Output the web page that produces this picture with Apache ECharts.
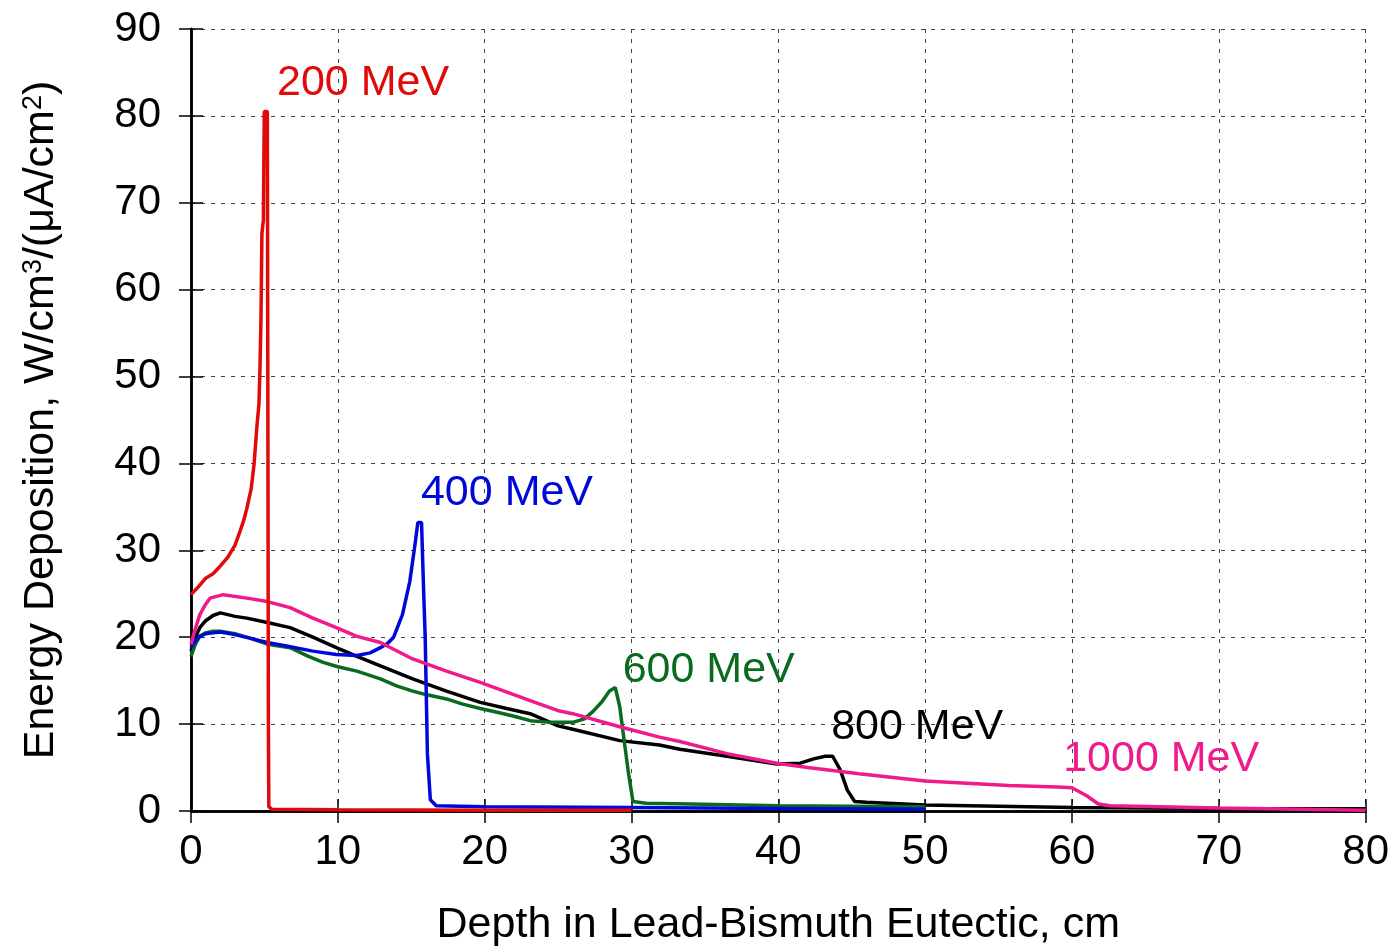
<!DOCTYPE html>
<html>
<head>
<meta charset="utf-8">
<script src="https://cdn.jsdelivr.net/npm/echarts@6/dist/echarts.min.js"></script>
<style>
  html, body { margin: 0; padding: 0; background: #fff; }
  #chart { width: 1392px; height: 952px; }
</style>
</head>
<body>
<div id="chart"></div>
<script>
// depth (cm) and energy deposition values
var x200 = [0, 0.5, 1, 1.5, 2, 2.5, 3, 3.3, 3.6, 3.8, 4.1, 4.3, 4.47, 4.63, 4.7, 4.77, 4.83, 4.93, 4.99, 5.2, 5.24, 5.27, 5.3, 5.5, 10, 20, 30];
var y200 = [24.9, 25.8, 26.8, 27.3, 28.2, 29.2, 30.6, 32, 33.5, 34.8, 37.1, 40, 43.9, 46.9, 51.1, 57.1, 66.5, 68, 80.5, 80.5, 41.6, 10, 0.5, 0.2, 0.15, 0.1, 0.1];

var x400 = [0, 0.3, 0.6, 1, 1.5, 2, 3, 4, 5.2, 6.5, 8.3, 9.9, 11.3, 12.2, 12.9, 13.4, 13.8, 14.4, 14.9, 15.25, 15.45, 15.7, 15.85, 15.95, 16.1, 16.3, 16.7, 20, 30, 40, 50];
var y400 = [18.8, 19.6, 20.1, 20.4, 20.5, 20.6, 20.3, 19.9, 19.4, 19.0, 18.4, 18.0, 17.9, 18.2, 18.8, 19.3, 20.0, 22.6, 26.4, 30.6, 33.2, 33.2, 25, 20, 6.6, 1.3, 0.6, 0.5, 0.4, 0.3, 0.2];

var x600 = [0, 0.3, 0.6, 1, 1.5, 2, 3, 4, 5.2, 6.75, 8, 9, 10, 11.3, 12.9, 14, 15.1, 16, 17.4, 18.5, 19.7, 21, 22, 23.1, 24.5, 26, 26.8, 27.4, 28, 28.5, 28.9, 29.2, 29.5, 29.8, 30.1, 31, 34, 40, 45, 50];
var y600 = [17.8, 19.2, 20.1, 20.5, 20.7, 20.7, 20.4, 19.9, 19.2, 18.8, 17.8, 17.1, 16.6, 16.1, 15.2, 14.4, 13.8, 13.4, 12.9, 12.3, 11.8, 11.3, 10.9, 10.4, 10.2, 10.2, 10.6, 11.5, 12.6, 13.8, 14.2, 12.0, 8.1, 4.3, 1.1, 0.9, 0.8, 0.6, 0.55, 0.5];

var x800 = [0, 0.3, 0.6, 1, 1.5, 2, 3, 3.8, 5.2, 6.75, 8.3, 9.9, 11.3, 12.9, 15.1, 17.4, 19.7, 21.5, 23.1, 25, 26, 29.2, 31.9, 33.3, 36.5, 39.9, 41.5, 42.4, 43.2, 43.7, 44.2, 44.7, 45.2, 46, 50, 60, 70, 80];
var y800 = [18.4, 20.0, 21.1, 21.9, 22.5, 22.8, 22.4, 22.2, 21.7, 21.1, 20.0, 18.8, 17.8, 16.7, 15.2, 13.8, 12.5, 11.8, 11.2, 9.8, 9.4, 8.1, 7.6, 7.1, 6.3, 5.4, 5.5, 6.0, 6.3, 6.3, 4.8, 2.4, 1.1, 1.0, 0.7, 0.4, 0.3, 0.25];

var x1000 = [0, 0.3, 0.6, 1, 1.3, 2.2, 3.8, 5.2, 6.75, 8.3, 9.9, 11.3, 12.9, 15.1, 17.4, 19.7, 23.1, 25.1, 26, 29.2, 31.9, 33.3, 36.5, 39.9, 42, 45.5, 50, 55.7, 59, 60, 61, 61.8, 62.6, 70, 80];
var y1000 = [19.2, 21.0, 22.6, 23.8, 24.5, 24.9, 24.5, 24.1, 23.4, 22.2, 21.1, 20.1, 19.4, 17.5, 16.1, 14.8, 12.7, 11.5, 11.2, 9.7, 8.5, 8.0, 6.6, 5.5, 5.0, 4.3, 3.45, 2.94, 2.75, 2.67, 1.76, 0.8, 0.6, 0.35, 0.1];

var seriesNames = ['200 MeV', '400 MeV', '600 MeV', '800 MeV', '1000 MeV'];
var seriesColors = ['#e00a0a', '#0008d8', '#0a6a1e', '#000000', '#ef1a8c'];
// label anchor (left edge, vertical middle) in data coordinates
var labelX = [5.86, 15.66, 29.4, 43.6, 59.4];
var labelY = [83.8, 36.6, 16.2, 9.7, 6.0];

var xs = [x200, x400, x600, x800, x1000];
var ys = [y200, y400, y600, y800, y1000];
var zOrder = [5, 3, 2, 1, 4];

var FONT = '"Liberation Sans", Arial, sans-serif';

function pairs(a, b) {
  var out = [];
  for (var i = 0; i < a.length; i++) out.push([a[i], b[i]]);
  return out;
}

var series = seriesNames.map(function (name, i) {
  return {
    name: name,
    type: 'line',
    data: pairs(xs[i], ys[i]),
    showSymbol: false,
    symbol: 'none',
    z: zOrder[i],
    lineStyle: { color: seriesColors[i], width: 3.5 },
    markPoint: {
      symbol: 'circle',
      symbolSize: 0,
      data: [{ coord: [labelX[i], labelY[i]] }],
      label: {
        show: true,
        position: 'right',
        distance: 0,
        formatter: name,
        color: seriesColors[i],
        fontSize: 43,
        fontFamily: FONT
      }
    }
  };
});

var axisLineStyle = { lineStyle: { color: '#000', width: 2.5 } };
var gridLine = { show: true, lineStyle: { color: '#444', width: 1, type: [4, 6] } };
var tick = { show: true, inside: true, length: 12, lineStyle: { color: '#000', width: 1.5 } };

var option = {
  animation: false,
  backgroundColor: '#fff',
  grid: { left: 191, top: 29, width: 1175, height: 789 },
  xAxis: [{
    type: 'value', min: 0, max: 80, interval: 10,
    axisLine: axisLineStyle, axisTick: tick, splitLine: gridLine,
    axisLabel: { color: '#000', fontSize: 42, fontFamily: FONT, margin: 20 },
    name: 'Depth in Lead-Bismuth Eutectic, cm',
    nameLocation: 'middle', nameGap: 93,
    nameTextStyle: { color: '#000', fontSize: 43, fontFamily: FONT }
  }, {
    type: 'value', min: 0, max: 80, interval: 10, position: 'top',
    axisLine: axisLineStyle, axisTick: tick, splitLine: { show: false },
    axisLabel: { show: false }
  }],
  yAxis: [{
    type: 'value', min: 0, max: 90, interval: 10,
    axisLine: axisLineStyle, axisTick: tick, splitLine: gridLine,
    axisLabel: { color: '#000', fontSize: 42, fontFamily: FONT, margin: 30 },
    name: 'Energy Deposition, W/cm{sup|3}/(\u03bcA/cm{sup|2})',
    nameLocation: 'middle', nameGap: 128,
    nameTextStyle: {
      color: '#000', fontSize: 43, fontFamily: FONT,
      rich: {
        sup: { fontSize: 27, fontFamily: FONT, color: '#000', verticalAlign: 'top', padding: [0, 0, 14, 0] }
      }
    }
  }, {
    type: 'value', min: 0, max: 90, interval: 10, position: 'right',
    axisLine: axisLineStyle, axisTick: tick, splitLine: { show: false },
    axisLabel: { show: false }
  }],
  series: series
};

var chart = echarts.init(document.getElementById('chart'));
chart.setOption(option);
</script>
</body>
</html>
